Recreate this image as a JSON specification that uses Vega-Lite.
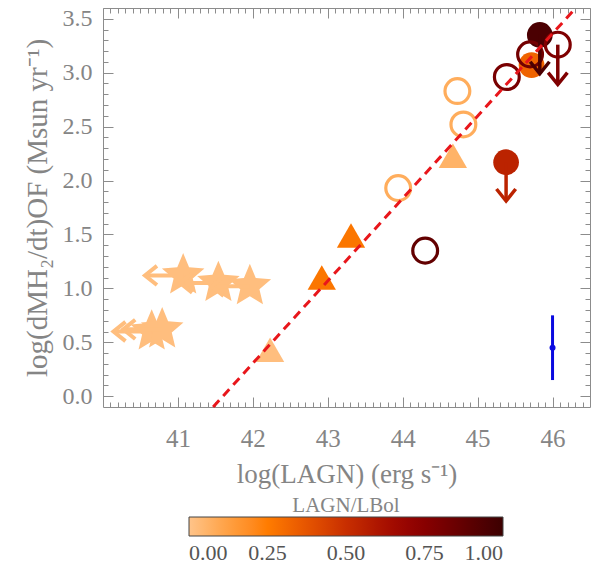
{
  "$schema": "https://vega.github.io/schema/vega-lite/v6.json",
  "width": 487,
  "height": 399,
  "autosize": {"type": "none"},
  "padding": {"left": 103, "top": 8, "right": 10, "bottom": 160},
  "background": "white",
  "config": {
    "view": {"stroke": "#8c8c8c", "strokeWidth": 1},
    "font": "Liberation Serif",
    "axis": {"grid": false, "domain": false, "labelFont": "Liberation Serif", "titleFont": "Liberation Serif", "labelColor": "#858585", "titleColor": "#858585", "tickColor": "#8c8c8c", "titleFontWeight": "normal"}
  },
  "datasets": {
    "pts": [
      {"k": "star", "x": 41.07, "y": 1.12, "c": 0.02, "ax": 40.56},
      {"k": "star", "x": 41.54, "y": 1.05, "c": 0.02, "ax": 41.03},
      {"k": "star", "x": 41.96, "y": 1.02, "c": 0.02, "ax": 41.45},
      {"k": "star", "x": 40.65, "y": 0.60, "c": 0.02, "ax": 40.14},
      {"k": "star", "x": 40.79, "y": 0.62, "c": 0.02, "ax": 40.27},
      {"k": "tri", "x": 42.23, "y": 0.43, "c": 0.02},
      {"k": "tri", "x": 42.92, "y": 1.10, "c": 0.27},
      {"k": "tri", "x": 43.31, "y": 1.49, "c": 0.27},
      {"k": "tri", "x": 44.67, "y": 2.23, "c": 0.06},
      {"k": "filled", "x": 45.72, "y": 3.07, "c": 0.33},
      {"k": "filled", "x": 45.38, "y": 2.17, "c": 0.55, "ay": 1.81},
      {"k": "filled", "x": 45.83, "y": 3.35, "c": 0.95, "ay": 2.99},
      {"k": "open", "x": 43.94, "y": 1.93, "c": 0.08},
      {"k": "open", "x": 44.73, "y": 2.83, "c": 0.08},
      {"k": "open", "x": 44.81, "y": 2.52, "c": 0.08},
      {"k": "open", "x": 44.30, "y": 1.35, "c": 0.87},
      {"k": "open", "x": 45.39, "y": 2.96, "c": 0.80},
      {"k": "open", "x": 45.70, "y": 3.17, "c": 0.82},
      {"k": "open", "x": 46.07, "y": 3.26, "c": 0.78, "ay": 2.89}
    ],
    "fit": [{"x": 41.47, "y": -0.1}, {"x": 46.31, "y": 3.6}],
    "err": [{"x": 46.0, "y": 0.45, "lo": 0.15, "hi": 0.75}]
  },
  "layer": [
    {
      "data": {"name": "pts"},
      "transform": [{"filter": "datum.k == 'filled'"}],
      "mark": {"type": "point", "filled": true, "opacity": 1, "size": 660, "shape": "circle"},
      "encoding": {
        "x": {"field": "x", "type": "quantitative", "scale": {"domain": [40, 46.5], "nice": false, "zero": false}, "axis": null},
        "y": {"field": "y", "type": "quantitative", "scale": {"domain": [-0.1, 3.6], "nice": false, "zero": false}, "axis": null},
        "color": {"field": "c", "type": "quantitative", "scale": {"domain": [0, 0.125, 0.25, 0.375, 0.5, 0.625, 0.75, 0.875, 1], "range": ["#ffc48a", "#ffa040", "#ff7c00", "#e65400", "#c82e00", "#a80e00", "#880000", "#620000", "#3c0000"]},
          "legend": {"title": "LAGN/LBol", "orient": "none", "legendX": 86, "legendY": 487, "direction": "horizontal", "gradientLength": 314, "gradientThickness": 19, "titleOrient": "top", "titleAnchor": "middle", "titleFontSize": 21, "titleFont": "Liberation Serif", "titleColor": "#858585", "titleFontWeight": "normal", "titlePadding": 1, "values": [0, 0.25, 0.5, 0.75, 1], "format": ".2f", "labelFontSize": 22, "labelFont": "Liberation Serif", "labelColor": "#555555", "labelAlign": "center", "labelOffset": 7, "labelOverlap": false, "gradientStrokeColor": "#444444", "gradientStrokeWidth": 1, "padding": 0,
            "encode": {"labels": {"align": {"value": "center"}}}}}
      }
    },
    {
      "data": {"name": "pts"},
      "transform": [{"filter": "datum.k == 'tri'"}],
      "mark": {"type": "point", "filled": true, "opacity": 1, "size": 800, "shape": "triangle-up"},
      "encoding": {
        "x": {"field": "x", "type": "quantitative", "scale": {"domain": [40, 46.5], "nice": false, "zero": false}, "axis": null},
        "y": {"field": "y", "type": "quantitative", "scale": {"domain": [-0.1, 3.6], "nice": false, "zero": false}, "axis": null},
        "color": {"field": "c", "type": "quantitative", "scale": {"domain": [0, 0.125, 0.25, 0.375, 0.5, 0.625, 0.75, 0.875, 1], "range": ["#ffc48a", "#ffa040", "#ff7c00", "#e65400", "#c82e00", "#a80e00", "#880000", "#620000", "#3c0000"]},
          "legend": {"title": "LAGN/LBol", "orient": "none", "legendX": 86, "legendY": 487, "direction": "horizontal", "gradientLength": 314, "gradientThickness": 19, "titleOrient": "top", "titleAnchor": "middle", "titleFontSize": 21, "titleFont": "Liberation Serif", "titleColor": "#858585", "titleFontWeight": "normal", "titlePadding": 1, "values": [0, 0.25, 0.5, 0.75, 1], "format": ".2f", "labelFontSize": 22, "labelFont": "Liberation Serif", "labelColor": "#555555", "labelAlign": "center", "labelOffset": 7, "labelOverlap": false, "gradientStrokeColor": "#444444", "gradientStrokeWidth": 1, "padding": 0,
            "encode": {"labels": {"align": {"value": "center"}}}}}
      }
    },
    {
      "data": {"name": "pts"},
      "transform": [{"filter": "datum.k == 'star'"}],
      "mark": {"type": "point", "filled": true, "opacity": 1, "size": 2000, "shape": "M0,-1L0.2646,-0.364L0.951,-0.309L0.428,0.139L0.588,0.809L0,0.45L-0.588,0.809L-0.428,0.139L-0.951,-0.309L-0.2646,-0.364Z"},
      "encoding": {
        "x": {"field": "x", "type": "quantitative", "scale": {"domain": [40, 46.5], "nice": false, "zero": false}, "axis": null},
        "y": {"field": "y", "type": "quantitative", "scale": {"domain": [-0.1, 3.6], "nice": false, "zero": false}, "axis": null},
        "color": {"field": "c", "type": "quantitative", "scale": {"domain": [0, 0.125, 0.25, 0.375, 0.5, 0.625, 0.75, 0.875, 1], "range": ["#ffc48a", "#ffa040", "#ff7c00", "#e65400", "#c82e00", "#a80e00", "#880000", "#620000", "#3c0000"]},
          "legend": {"title": "LAGN/LBol", "orient": "none", "legendX": 86, "legendY": 487, "direction": "horizontal", "gradientLength": 314, "gradientThickness": 19, "titleOrient": "top", "titleAnchor": "middle", "titleFontSize": 21, "titleFont": "Liberation Serif", "titleColor": "#858585", "titleFontWeight": "normal", "titlePadding": 1, "values": [0, 0.25, 0.5, 0.75, 1], "format": ".2f", "labelFontSize": 22, "labelFont": "Liberation Serif", "labelColor": "#555555", "labelAlign": "center", "labelOffset": 7, "labelOverlap": false, "gradientStrokeColor": "#444444", "gradientStrokeWidth": 1, "padding": 0,
            "encode": {"labels": {"align": {"value": "center"}}}}}
      }
    },
    {
      "data": {"name": "pts"},
      "transform": [{"filter": "datum.k == 'star'"}],
      "mark": {"type": "rule", "strokeWidth": 4},
      "encoding": {
        "x": {"field": "x", "type": "quantitative", "scale": {"domain": [40, 46.5], "nice": false, "zero": false}, "axis": null},
        "x2": {"field": "ax"},
        "y": {"field": "y", "type": "quantitative", "scale": {"domain": [-0.1, 3.6], "nice": false, "zero": false}, "axis": null},
        "stroke": {"field": "c", "type": "quantitative", "scale": {"domain": [-0.000001, 0.125, 0.25, 0.375, 0.5, 0.625, 0.75, 0.875, 1.000001], "range": ["#ffc48a", "#ffa040", "#ff7c00", "#e65400", "#c82e00", "#a80e00", "#880000", "#620000", "#3c0000"]}, "legend": null}
      }
    },
    {
      "data": {"name": "pts"},
      "transform": [{"filter": "datum.k == 'star'"}],
      "mark": {"type": "point", "filled": false, "opacity": 1, "strokeWidth": 4, "size": 576, "shape": "M1,-0.8L0,0L1,0.8"},
      "encoding": {
        "x": {"field": "ax", "type": "quantitative", "scale": {"domain": [40, 46.5], "nice": false, "zero": false}, "axis": null},
        "y": {"field": "y", "type": "quantitative", "scale": {"domain": [-0.1, 3.6], "nice": false, "zero": false}, "axis": null},
        "stroke": {"field": "c", "type": "quantitative", "scale": {"domain": [-0.000001, 0.125, 0.25, 0.375, 0.5, 0.625, 0.75, 0.875, 1.000001], "range": ["#ffc48a", "#ffa040", "#ff7c00", "#e65400", "#c82e00", "#a80e00", "#880000", "#620000", "#3c0000"]}, "legend": null}
      }
    },
    {
      "data": {"name": "pts"},
      "transform": [{"filter": "datum.k == 'open'"}],
      "mark": {"type": "point", "filled": false, "opacity": 1, "strokeWidth": 3.2, "size": 616, "shape": "circle"},
      "encoding": {
        "x": {"field": "x", "type": "quantitative", "scale": {"domain": [40, 46.5], "nice": false, "zero": false}, "axis": null},
        "y": {"field": "y", "type": "quantitative", "scale": {"domain": [-0.1, 3.6], "nice": false, "zero": false}, "axis": null},
        "stroke": {"field": "c", "type": "quantitative", "scale": {"domain": [-0.000001, 0.125, 0.25, 0.375, 0.5, 0.625, 0.75, 0.875, 1.000001], "range": ["#ffc48a", "#ffa040", "#ff7c00", "#e65400", "#c82e00", "#a80e00", "#880000", "#620000", "#3c0000"]}, "legend": null}
      }
    },
    {
      "data": {"name": "pts"},
      "transform": [{"filter": "isValid(datum.ay)"}],
      "mark": {"type": "rule", "strokeWidth": 3.5},
      "encoding": {
        "x": {"field": "x", "type": "quantitative", "scale": {"domain": [40, 46.5], "nice": false, "zero": false}, "axis": null},
        "y": {"field": "y", "type": "quantitative", "scale": {"domain": [-0.1, 3.6], "nice": false, "zero": false}, "axis": null},
        "y2": {"field": "ay"},
        "stroke": {"field": "c", "type": "quantitative", "scale": {"domain": [-0.000001, 0.125, 0.25, 0.375, 0.5, 0.625, 0.75, 0.875, 1.000001], "range": ["#ffc48a", "#ffa040", "#ff7c00", "#e65400", "#c82e00", "#a80e00", "#880000", "#620000", "#3c0000"]}, "legend": null}
      }
    },
    {
      "data": {"name": "pts"},
      "transform": [{"filter": "isValid(datum.ay)"}],
      "mark": {"type": "point", "filled": false, "opacity": 1, "strokeWidth": 3.5, "size": 576, "shape": "M-0.8,-1L0,0L0.8,-1"},
      "encoding": {
        "x": {"field": "x", "type": "quantitative", "scale": {"domain": [40, 46.5], "nice": false, "zero": false}, "axis": null},
        "y": {"field": "ay", "type": "quantitative", "scale": {"domain": [-0.1, 3.6], "nice": false, "zero": false}, "axis": null},
        "stroke": {"field": "c", "type": "quantitative", "scale": {"domain": [-0.000001, 0.125, 0.25, 0.375, 0.5, 0.625, 0.75, 0.875, 1.000001], "range": ["#ffc48a", "#ffa040", "#ff7c00", "#e65400", "#c82e00", "#a80e00", "#880000", "#620000", "#3c0000"]}, "legend": null}
      }
    },
    {
      "data": {"name": "err"},
      "mark": {"type": "rule", "color": "#0a0ae0", "strokeWidth": 3},
      "encoding": {
        "x": {"field": "x", "type": "quantitative", "scale": {"domain": [40, 46.5], "nice": false, "zero": false}, "axis": null},
        "y": {"field": "lo", "type": "quantitative", "scale": {"domain": [-0.1, 3.6], "nice": false, "zero": false}, "axis": null},
        "y2": {"field": "hi"}
      }
    },
    {
      "data": {"name": "err"},
      "mark": {"type": "point", "filled": true, "opacity": 1, "color": "#0a0ae0", "size": 36, "shape": "circle"},
      "encoding": {
        "x": {"field": "x", "type": "quantitative", "scale": {"domain": [40, 46.5], "nice": false, "zero": false}, "axis": null},
        "y": {"field": "y", "type": "quantitative", "scale": {"domain": [-0.1, 3.6], "nice": false, "zero": false}, "axis": null}
      }
    },
    {
      "data": {"name": "fit"},
      "mark": {"type": "line", "color": "#e8161b", "strokeWidth": 3, "strokeDash": [9, 6]},
      "encoding": {
        "x": {"field": "x", "type": "quantitative", "scale": {"domain": [40, 46.5], "nice": false, "zero": false}, "axis": null},
        "y": {"field": "y", "type": "quantitative", "scale": {"domain": [-0.1, 3.6], "nice": false, "zero": false}, "axis": null}
      }
    },
    {
      "data": {"name": "fit"},
      "mark": {"type": "point", "opacity": 0},
      "encoding": {
        "x": {"field": "x", "type": "quantitative", "scale": {"domain": [40, 46.5], "nice": false, "zero": false},
          "axis": {"orient": "bottom", "values": [41, 42, 43, 44, 45, 46], "format": "d", "ticks": false, "labelFontSize": 25, "labelPadding": 19, "title": "log(LAGN) (erg s⁻¹)", "titleFontSize": 27, "titlePadding": 10}},
        "y": {"field": "y", "type": "quantitative", "scale": {"domain": [-0.1, 3.6], "nice": false, "zero": false},
          "axis": {"orient": "left", "values": [0, 0.5, 1, 1.5, 2, 2.5, 3, 3.5], "format": ".1f", "ticks": false, "labelFontSize": 24, "labelPadding": 11, "title": "log(dMH₂/dt)OF (Msun yr⁻¹)", "titleFontSize": 29, "titlePadding": 10}}
      }
    },
    {
      "data": {"name": "fit"},
      "mark": {"type": "point", "opacity": 0},
      "encoding": {
        "x": {"field": "x", "type": "quantitative", "scale": {"domain": [40, 46.5], "nice": false, "zero": false},
          "axis": {"orient": "bottom", "values": [41, 42, 43, 44, 45, 46], "labels": false, "ticks": true, "tickSize": -10, "title": null}},
        "y": {"field": "y", "type": "quantitative", "scale": {"domain": [-0.1, 3.6], "nice": false, "zero": false},
          "axis": {"orient": "left", "values": [0, 0.5, 1, 1.5, 2, 2.5, 3, 3.5], "labels": false, "ticks": true, "tickSize": -10, "title": null}}
      }
    },
    {
      "data": {"name": "fit"},
      "mark": {"type": "point", "opacity": 0},
      "encoding": {
        "x": {"field": "x", "type": "quantitative", "scale": {"domain": [40, 46.5], "nice": false, "zero": false},
          "axis": {"orient": "bottom", "values": [40.1, 40.2, 40.3, 40.4, 40.5, 40.6, 40.7, 40.8, 40.9, 41.1, 41.2, 41.3, 41.4, 41.5, 41.6, 41.7, 41.8, 41.9, 42.1, 42.2, 42.3, 42.4, 42.5, 42.6, 42.7, 42.8, 42.9, 43.1, 43.2, 43.3, 43.4, 43.5, 43.6, 43.7, 43.8, 43.9, 44.1, 44.2, 44.3, 44.4, 44.5, 44.6, 44.7, 44.8, 44.9, 45.1, 45.2, 45.3, 45.4, 45.5, 45.6, 45.7, 45.8, 45.9, 46.1, 46.2, 46.3, 46.4], "labels": false, "ticks": true, "tickSize": -5, "title": null}},
        "y": {"field": "y", "type": "quantitative", "scale": {"domain": [-0.1, 3.6], "nice": false, "zero": false},
          "axis": {"orient": "left", "values": [0.1, 0.2, 0.3, 0.4, 0.6, 0.7, 0.8, 0.9, 1.1, 1.2, 1.3, 1.4, 1.6, 1.7, 1.8, 1.9, 2.1, 2.2, 2.3, 2.4, 2.6, 2.7, 2.8, 2.9, 3.1, 3.2, 3.3, 3.4, 3.5, 3.6], "labels": false, "ticks": true, "tickSize": -5, "title": null}}
      }
    },
    {
      "data": {"name": "fit"},
      "mark": {"type": "point", "opacity": 0},
      "encoding": {
        "x": {"field": "x", "type": "quantitative", "scale": {"domain": [40, 46.5], "nice": false, "zero": false},
          "axis": {"orient": "top", "values": [41, 42, 43, 44, 45, 46], "labels": false, "ticks": true, "tickSize": -10, "title": null}},
        "y": {"field": "y", "type": "quantitative", "scale": {"domain": [-0.1, 3.6], "nice": false, "zero": false},
          "axis": {"orient": "right", "values": [0, 0.5, 1, 1.5, 2, 2.5, 3, 3.5], "labels": false, "ticks": true, "tickSize": -10, "title": null}}
      }
    },
    {
      "data": {"name": "fit"},
      "mark": {"type": "point", "opacity": 0},
      "encoding": {
        "x": {"field": "x", "type": "quantitative", "scale": {"domain": [40, 46.5], "nice": false, "zero": false},
          "axis": {"orient": "top", "values": [40.1, 40.2, 40.3, 40.4, 40.5, 40.6, 40.7, 40.8, 40.9, 41.1, 41.2, 41.3, 41.4, 41.5, 41.6, 41.7, 41.8, 41.9, 42.1, 42.2, 42.3, 42.4, 42.5, 42.6, 42.7, 42.8, 42.9, 43.1, 43.2, 43.3, 43.4, 43.5, 43.6, 43.7, 43.8, 43.9, 44.1, 44.2, 44.3, 44.4, 44.5, 44.6, 44.7, 44.8, 44.9, 45.1, 45.2, 45.3, 45.4, 45.5, 45.6, 45.7, 45.8, 45.9, 46.1, 46.2, 46.3, 46.4], "labels": false, "ticks": true, "tickSize": -5, "title": null}},
        "y": {"field": "y", "type": "quantitative", "scale": {"domain": [-0.1, 3.6], "nice": false, "zero": false},
          "axis": {"orient": "right", "values": [0.1, 0.2, 0.3, 0.4, 0.6, 0.7, 0.8, 0.9, 1.1, 1.2, 1.3, 1.4, 1.6, 1.7, 1.8, 1.9, 2.1, 2.2, 2.3, 2.4, 2.6, 2.7, 2.8, 2.9, 3.1, 3.2, 3.3, 3.4, 3.5, 3.6], "labels": false, "ticks": true, "tickSize": -5, "title": null}}
      }
    }
  ],
  "resolve": {"axis": {"x": "independent", "y": "independent"}}
}
